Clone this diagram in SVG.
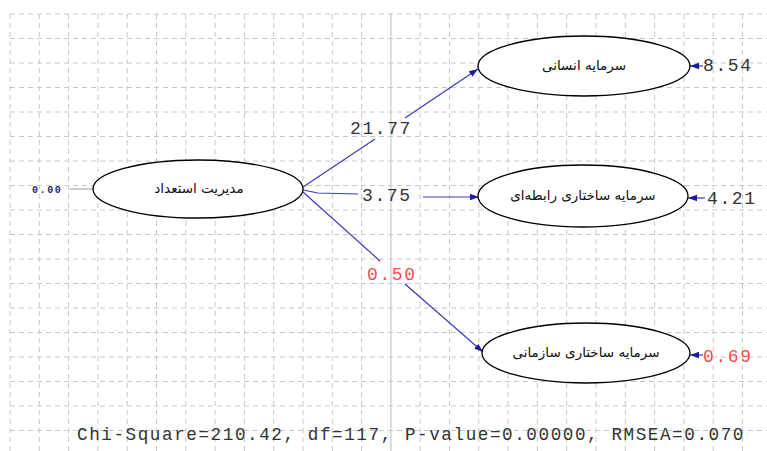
<svg xmlns="http://www.w3.org/2000/svg" width="767" height="451" viewBox="0 0 767 451">
<style>
.grid line{stroke:#c8c8c8;stroke-width:1;stroke-dasharray:5,4;fill:none}
.node ellipse{fill:#fff;stroke:#000;stroke-width:1.3}
.lbl{font-family:"DejaVu Sans",sans-serif;font-size:13.5px;fill:#111;text-anchor:middle;direction:rtl}
.num{font-family:"Liberation Mono","Courier New",monospace;font-size:18px;letter-spacing:1.6px;fill:#333}
.red{fill:#ff4d4d}
.edge{stroke:#3a3ab8;stroke-width:1.2;fill:none}
</style>
<defs>
<marker id="ah" markerWidth="10" markerHeight="8" refX="9" refY="4" orient="auto" markerUnits="userSpaceOnUse">
<path d="M0,0.8 L9,4 L0,7.2 Z" fill="#1a1aa0"/>
</marker>
</defs>
<rect width="767" height="451" fill="#fff"/>
<g class="grid">
<line x1="10" y1="14" x2="767" y2="14"/>
<line x1="10" y1="38.5" x2="767" y2="38.5"/>
<line x1="10" y1="63" x2="767" y2="63"/>
<line x1="10" y1="87.5" x2="767" y2="87.5"/>
<line x1="10" y1="112" x2="767" y2="112"/>
<line x1="10" y1="136.5" x2="767" y2="136.5"/>
<line x1="10" y1="161" x2="767" y2="161"/>
<line x1="10" y1="185.5" x2="767" y2="185.5"/>
<line x1="10" y1="210" x2="767" y2="210"/>
<line x1="10" y1="234.5" x2="767" y2="234.5"/>
<line x1="10" y1="259" x2="767" y2="259"/>
<line x1="10" y1="283.5" x2="767" y2="283.5"/>
<line x1="10" y1="308" x2="767" y2="308"/>
<line x1="10" y1="332.5" x2="767" y2="332.5"/>
<line x1="10" y1="357" x2="767" y2="357"/>
<line x1="10" y1="381.5" x2="767" y2="381.5"/>
<line x1="10" y1="406" x2="767" y2="406"/>
<line x1="10" y1="430.5" x2="767" y2="430.5"/>
<line x1="10" y1="14" x2="10" y2="451"/>
<line x1="39.3" y1="14" x2="39.3" y2="451"/>
<line x1="68.6" y1="14" x2="68.6" y2="451"/>
<line x1="97.9" y1="14" x2="97.9" y2="451"/>
<line x1="127.2" y1="14" x2="127.2" y2="451"/>
<line x1="156.5" y1="14" x2="156.5" y2="451"/>
<line x1="185.8" y1="14" x2="185.8" y2="451"/>
<line x1="215.1" y1="14" x2="215.1" y2="451"/>
<line x1="244.4" y1="14" x2="244.4" y2="451"/>
<line x1="273.7" y1="14" x2="273.7" y2="451"/>
<line x1="303" y1="14" x2="303" y2="451"/>
<line x1="332.3" y1="14" x2="332.3" y2="451"/>
<line x1="361.6" y1="14" x2="361.6" y2="451"/>
<line x1="420.2" y1="14" x2="420.2" y2="451"/>
<line x1="449.5" y1="14" x2="449.5" y2="451"/>
<line x1="478.8" y1="14" x2="478.8" y2="451"/>
<line x1="508.1" y1="14" x2="508.1" y2="451"/>
<line x1="537.4" y1="14" x2="537.4" y2="451"/>
<line x1="566.7" y1="14" x2="566.7" y2="451"/>
<line x1="596" y1="14" x2="596" y2="451"/>
<line x1="625.3" y1="14" x2="625.3" y2="451"/>
<line x1="654.6" y1="14" x2="654.6" y2="451"/>
<line x1="683.9" y1="14" x2="683.9" y2="451"/>
<line x1="713.2" y1="14" x2="713.2" y2="451"/>
<line x1="742.5" y1="14" x2="742.5" y2="451"/>
</g>
<line x1="390.9" y1="14" x2="390.9" y2="451" stroke="#c8c8c8" stroke-width="1.2"/>
<g id="connectors">
<line x1="70" y1="189" x2="94" y2="189" stroke="#999" stroke-width="1"/>
<path class="edge" d="M303,187 L375,139"/>
<path class="edge" d="M405,118 L478,69" marker-end="url(#ah)"/>
<path class="edge" d="M303,190 L318,193 L358,194"/>
<path class="edge" d="M423,197 L479,197" marker-end="url(#ah)"/>
<path class="edge" d="M303,192 L380,261"/>
<path class="edge" d="M405,284 L483,352" marker-end="url(#ah)"/>
<path class="edge" d="M703,66 L690,66" marker-end="url(#ah)"/>
<path class="edge" d="M705,198 L688,198" marker-end="url(#ah)"/>
<path class="edge" d="M703,355 L690,355" marker-end="url(#ah)"/>
</g>
<g id="talent" class="node">
<ellipse cx="198" cy="189" rx="105" ry="29"/>
<text class="lbl" x="199" y="193">مدیریت استعداد</text>
<text x="32" y="193" font-family="Liberation Mono,monospace" font-size="10" letter-spacing="1.6" fill="#1f2a6a" font-weight="bold">0.00</text>
</g>
<g id="human" class="node">
<ellipse cx="584" cy="66" rx="106" ry="30"/>
<text class="lbl" x="584" y="70">سرمایه انسانی</text>
<text class="num" x="703" y="71">8.54</text>
</g>
<g id="relational" class="node">
<ellipse cx="583" cy="196" rx="105" ry="31"/>
<text class="lbl" x="583" y="200">سرمایه ساختاری رابطه‌ای</text>
<text class="num" x="707" y="204">4.21</text>
</g>
<g id="organizational" class="node">
<ellipse cx="586" cy="353" rx="104" ry="30"/>
<text class="lbl" x="586" y="357">سرمایه ساختاری سازمانی</text>
<text class="num red" x="703" y="362">0.69</text>
</g>
<g id="labels">
<text class="num" x="350" y="134">21.77</text>
<text class="num" x="362" y="201">3.75</text>
<text class="num red" x="367" y="280">0.50</text>
<text class="num" x="77" y="440" textLength="668" lengthAdjust="spacingAndGlyphs" letter-spacing="0">Chi-Square=210.42, df=117, P-value=0.00000, RMSEA=0.070</text>
</g>
</svg>
